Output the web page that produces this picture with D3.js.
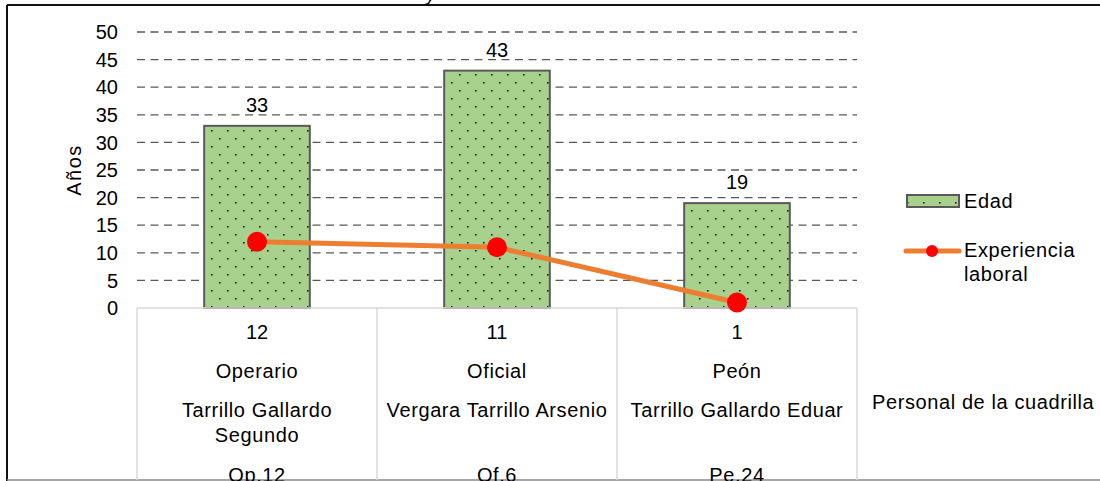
<!DOCTYPE html>
<html>
<head>
<meta charset="utf-8">
<script src="https://cdn.jsdelivr.net/npm/d3@7"></script>
<style>
  body { margin: 0; background: #fff; }
  text { font-family: "Liberation Sans", Arial, sans-serif; fill: #000; font-size: 20px; }
  .word { letter-spacing: 0.6px; }
</style>
</head>
<body>
<svg id="chart" width="1100" height="481"></svg>
<script>
// data
var codes = ["Op.12", "Of.6", "Pe.24"];
var roles = ["Operario", "Oficial", "Peón"];
var names = [["Tarrillo Gallardo", "Segundo"], ["Vergara Tarrillo Arsenio"], ["Tarrillo Gallardo Eduar"]];
var edad = [33, 43, 19];
var experiencia = [12, 11, 1];
var yTicks = [0, 5, 10, 15, 20, 25, 30, 35, 40, 45, 50];

var svg = d3.select("#chart");
var plotLeft = 137, plotRight = 857, plotTop = 32, plotBottom = 308;

var x = d3.scaleBand()
  .domain(codes)
  .range([plotLeft, plotRight])
  .paddingInner(0.56)
  .paddingOuter(0.28);

var xc = function(d) { return x(d) + x.bandwidth() / 2; };

var y = d3.scaleLinear()
  .domain([0, 50])
  .range([plotBottom, plotTop]);

// dot pattern for bars
var defs = svg.append("defs");
var pat = defs.append("pattern")
  .attr("id", "dots")
  .attr("patternUnits", "userSpaceOnUse")
  .attr("width", 16).attr("height", 16)
  .attr("x", 3).attr("y", 2);
pat.append("rect").attr("width", 16).attr("height", 16).attr("fill", "#a9d18e");
pat.append("rect").attr("x", 0).attr("y", 0).attr("width", 1.5).attr("height", 1.5).attr("fill", "#000");
pat.append("rect").attr("x", 8).attr("y", 8).attr("width", 1.5).attr("height", 1.5).attr("fill", "#000");

// outer frame
svg.append("line").attr("x1", 7).attr("x2", 1100).attr("y1", 5).attr("y2", 5)
  .attr("stroke", "#111").attr("stroke-width", 2);
svg.append("line").attr("x1", 7).attr("x2", 7).attr("y1", 5).attr("y2", 481)
  .attr("stroke", "#111").attr("stroke-width", 2);
svg.append("line").attr("x1", 7).attr("x2", 1100).attr("y1", 480).attr("y2", 480)
  .attr("stroke", "#888").attr("stroke-width", 1.5);
svg.append("text").attr("x", 426).attr("y", 1)
  .attr("font-style", "italic").text("y");

// gridlines
svg.append("g")
  .selectAll("line")
  .data(yTicks.filter(function(d) { return d > 0; }))
  .enter().append("line")
  .attr("x1", plotLeft).attr("x2", plotRight)
  .attr("y1", function(d) { return y(d); })
  .attr("y2", function(d) { return y(d); })
  .attr("stroke", "#595959")
  .attr("stroke-width", 1.3)
  .attr("stroke-dasharray", "8,5.5");

// y axis labels
svg.append("g")
  .selectAll("text")
  .data(yTicks)
  .enter().append("text")
  .attr("x", 118)
  .attr("y", function(d) { return y(d); })
  .attr("dy", "0.36em")
  .attr("text-anchor", "end")
  .text(function(d) { return d; });

svg.append("text")
  .attr("transform", "translate(81," + y(25) + ")rotate(-90)")
  .attr("text-anchor", "middle")
  .style("letter-spacing", "1.5px")
  .text("Años");

// bars
svg.append("g")
  .selectAll("rect")
  .data(codes)
  .enter().append("rect")
  .attr("x", function(d) { return x(d); })
  .attr("y", function(d, i) { return y(edad[i]); })
  .attr("width", x.bandwidth())
  .attr("height", function(d, i) { return y(0) - y(edad[i]); })
  .attr("fill", "url(#dots)")
  .attr("stroke", "#595959")
  .attr("stroke-width", 2);

svg.append("g")
  .selectAll("text")
  .data(codes)
  .enter().append("text")
  .attr("x", xc)
  .attr("y", function(d, i) { return y(edad[i]) - 14; })
  .attr("text-anchor", "middle")
  .text(function(d, i) { return edad[i]; });

// table below axis
svg.append("line").attr("x1", plotLeft).attr("x2", plotRight).attr("y1", plotBottom).attr("y2", plotBottom)
  .attr("stroke", "#d9d9d9").attr("stroke-width", 1.5);
svg.append("g")
  .selectAll("line")
  .data(d3.range(codes.length + 1))
  .enter().append("line")
  .attr("x1", function(i) { return plotLeft + i * x.step(); })
  .attr("x2", function(i) { return plotLeft + i * x.step(); })
  .attr("y1", plotBottom).attr("y2", 480)
  .attr("stroke", "#d9d9d9").attr("stroke-width", 1.5);

var cells = svg.append("g")
  .selectAll("g")
  .data(codes)
  .enter().append("g");

cells.append("text")
  .attr("x", xc).attr("y", 339).attr("text-anchor", "middle")
  .text(function(d, i) { return experiencia[i]; });
cells.append("text")
  .attr("class", "word")
  .attr("x", xc).attr("y", 378).attr("text-anchor", "middle")
  .text(function(d, i) { return roles[i]; });
cells.each(function(d, i) {
  var g = d3.select(this);
  names[i].forEach(function(line, j) {
    g.append("text")
      .attr("class", "word")
      .attr("x", xc(d)).attr("y", 417 + j * 25)
      .attr("text-anchor", "middle")
      .text(line);
  });
});
cells.append("text")
  .attr("class", "word")
  .attr("x", xc).attr("y", 482).attr("text-anchor", "middle")
  .text(function(d) { return d; });

svg.append("text")
  .attr("class", "word")
  .attr("x", 872).attr("y", 409)
  .text("Personal de la cuadrilla");

// experience line
var line = d3.line()
  .x(function(d, i) { return xc(codes[i]); })
  .y(function(d) { return y(d); });

svg.append("path")
  .datum(experiencia)
  .attr("d", line)
  .attr("fill", "none")
  .attr("stroke", "#ed7d31")
  .attr("stroke-width", 5)
  .attr("stroke-linecap", "round");

svg.append("g")
  .selectAll("circle")
  .data(experiencia)
  .enter().append("circle")
  .attr("cx", function(d, i) { return xc(codes[i]); })
  .attr("cy", function(d) { return y(d); })
  .attr("r", 10)
  .attr("fill", "#ff0000");

// legend
var lg = svg.append("g");
lg.append("rect")
  .attr("x", 907).attr("y", 195).attr("width", 52).attr("height", 12)
  .attr("fill", "url(#dots)").attr("stroke", "#595959").attr("stroke-width", 2);
lg.append("text").attr("class", "word").attr("x", 964).attr("y", 208).text("Edad");
lg.append("line")
  .attr("x1", 906).attr("x2", 959).attr("y1", 251).attr("y2", 251)
  .attr("stroke", "#ed7d31").attr("stroke-width", 5).attr("stroke-linecap", "round");
lg.append("circle").attr("cx", 932).attr("cy", 251).attr("r", 6).attr("fill", "#ff0000");
lg.append("text").attr("class", "word").attr("x", 964).attr("y", 257).text("Experiencia");
lg.append("text").attr("class", "word").attr("x", 964).attr("y", 281).text("laboral");
</script>
</body>
</html>
